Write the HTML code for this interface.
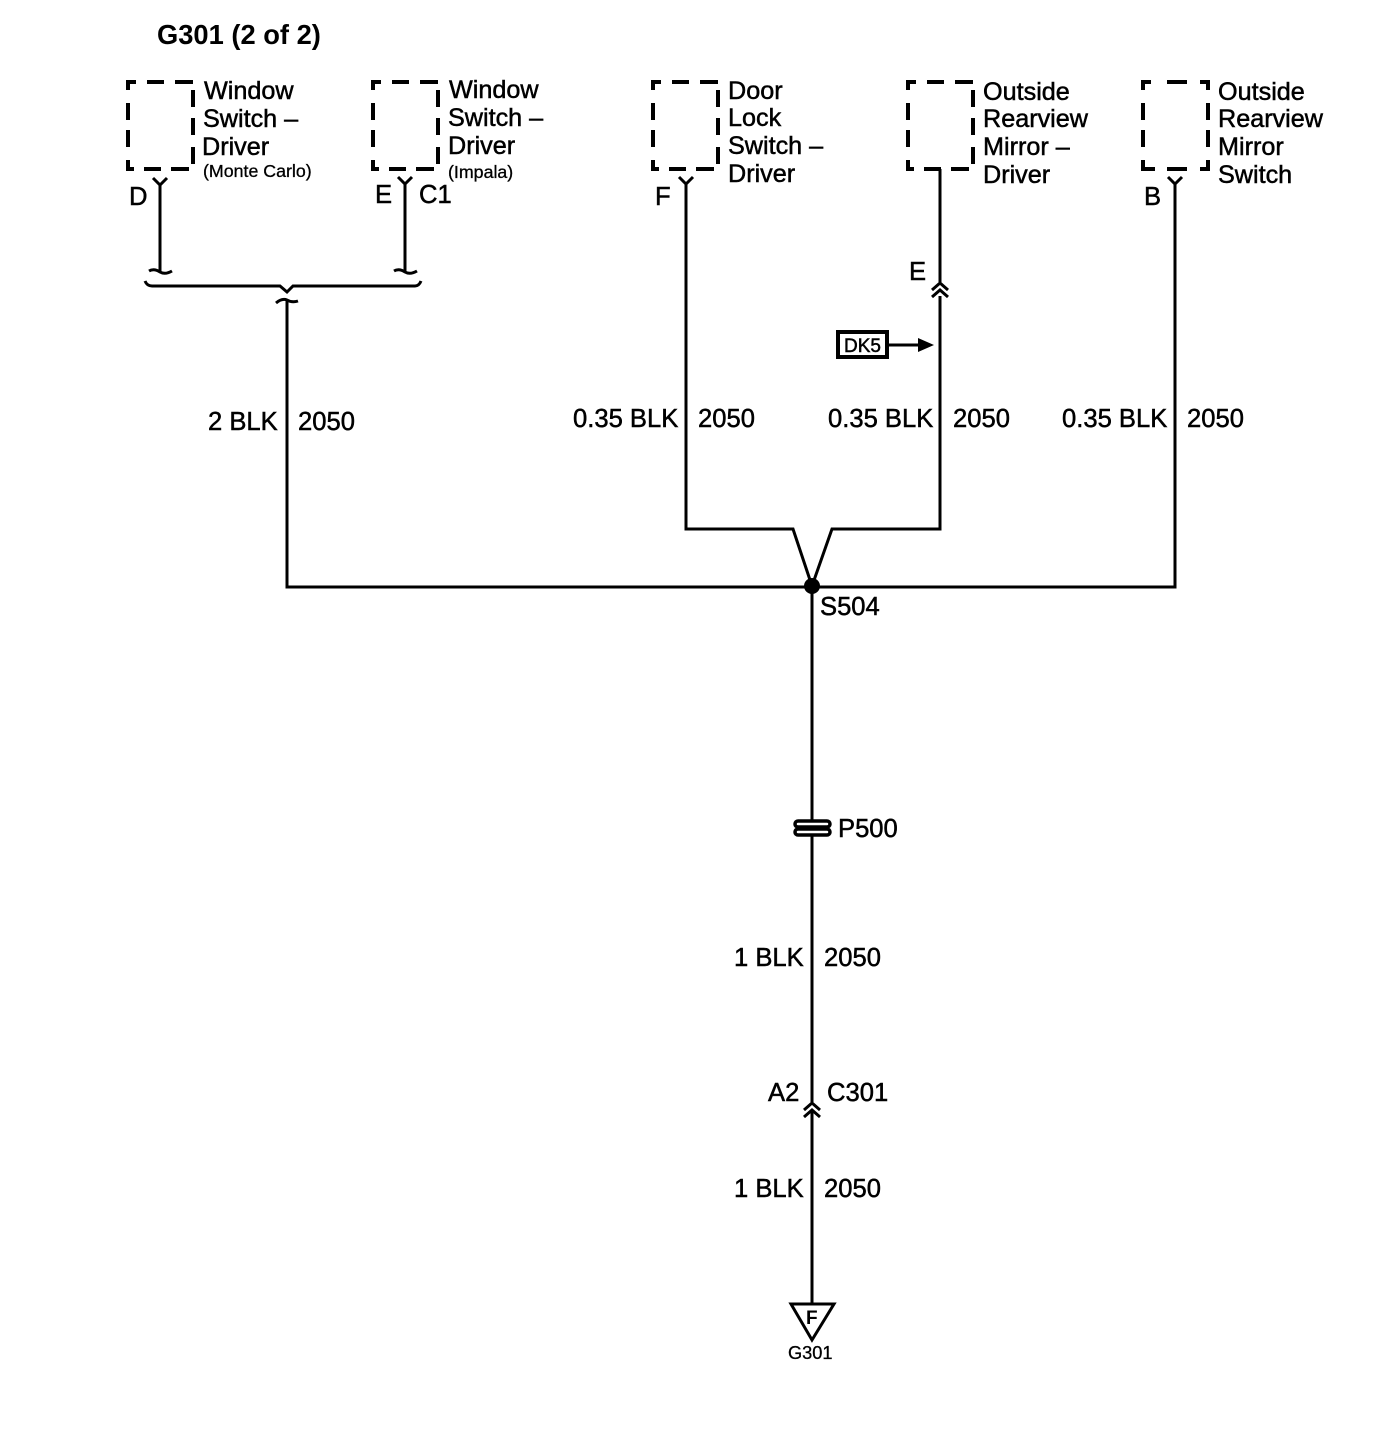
<!DOCTYPE html>
<html>
<head>
<meta charset="utf-8">
<style>
html,body{margin:0;padding:0;background:#fff}
svg{display:block}
text{font-family:"Liberation Sans",sans-serif;fill:#000;font-size:25.6px;stroke:#000;stroke-width:.5px}
.b{font-size:25.2px}
.s{font-size:17.8px;stroke-width:.3px}
.t{font-size:27.3px;font-weight:bold;stroke:none}
.w{fill:none;stroke:#000;stroke-width:3}
</style>
</head>
<body>
<svg width="1376" height="1440" viewBox="0 0 1376 1440" xmlns="http://www.w3.org/2000/svg">
<defs>
<path id="bx" fill="none" stroke="#000" stroke-width="4" d="M0 8V0H8M19 0H36M47 0H65M65 8V25M65 36V53M65 65V82M0 21V38M0 48V65M0 78V87H6M16 87H33M43 87H61"/>
<path id="bx2" fill="none" stroke="#000" stroke-width="4" d="M0 8V0H8M24 0H44M57 0H65V8M65 21V38M65 48V65M0 21V38M0 48V65M0 78V87H12M24 87H44M57 87H65V78"/>
<path id="fk" fill="none" stroke="#000" stroke-width="3" d="M-7 -7L0 0L7 -7"/>
<path id="ch" fill="none" stroke="#000" stroke-width="3" d="M-8 7L0 0L8 7M-8 14L0 7L8 14"/>
</defs>

<text x="157" y="44" class="t">G301 (2 of 2)</text>

<use href="#bx" x="128" y="82"/>
<use href="#bx" x="373" y="82"/>
<use href="#bx" x="653" y="82"/>
<use href="#bx" x="908" y="82"/>
<use href="#bx2" x="1143" y="82"/>

<text x="204" y="99" class="b">Window</text>
<text x="203" y="127" class="b">Switch –</text>
<text x="202" y="155" class="b">Driver</text>
<text x="203" y="177" class="s">(Monte Carlo)</text>

<text x="449" y="98" class="b">Window</text>
<text x="448" y="126" class="b">Switch –</text>
<text x="448" y="154" class="b">Driver</text>
<text x="448" y="178" class="s">(Impala)</text>

<text x="728" y="99" class="b">Door</text>
<text x="728" y="126" class="b">Lock</text>
<text x="728" y="154" class="b">Switch –</text>
<text x="728" y="182" class="b">Driver</text>

<text x="983" y="100" class="b">Outside</text>
<text x="983" y="127" class="b">Rearview</text>
<text x="983" y="155" class="b">Mirror –</text>
<text x="983" y="183" class="b">Driver</text>

<text x="1218" y="100" class="b">Outside</text>
<text x="1218" y="127" class="b">Rearview</text>
<text x="1218" y="155" class="b">Mirror</text>
<text x="1218" y="183" class="b">Switch</text>

<text x="129" y="205">D</text>
<text x="375" y="203">E</text>
<text x="419" y="203">C1</text>
<text x="655" y="205">F</text>
<text x="1144" y="205">B</text>
<text x="909" y="280">E</text>

<!-- left wires -->
<use href="#fk" x="160" y="185"/>
<use href="#fk" x="405" y="184"/>
<path class="w" d="M160 185V272M405 184V272"/>
<path class="w" d="M149 271Q154 268 160 272Q165 275 172 271M394 271Q399 268 405 272Q410 275 417 271"/>
<path class="w" d="M145 281Q147 286 152 286H280L287 292L293 286H415Q419 286 421 281"/>
<path class="w" d="M276 303Q282 298 287 300Q292 303 298 301"/>
<path class="w" d="M287 300V587H1175V184"/>

<!-- fork wires -->
<use href="#fk" x="686" y="184"/>
<use href="#fk" x="1175" y="184"/>
<path class="w" d="M686 184V529H793L812 586L832 529H940V296"/>
<path class="w" d="M940 169V282"/>
<use href="#ch" x="940" y="283"/>

<!-- DK5 -->
<rect x="838" y="332" width="49" height="25" fill="#fff" stroke="#000" stroke-width="4"/>
<text x="844" y="352" style="font-size:19px;stroke-width:.5px">DK5</text>
<path class="w" d="M888 345H920"/>
<path d="M918 338L934 345L918 352Z" fill="#000"/>

<!-- center -->
<circle cx="812" cy="586" r="8" fill="#000"/>
<path class="w" d="M812 586V1102M812 1110V1304"/>
<text x="820" y="615">S504</text>

<!-- P500 -->
<rect x="795" y="821" width="35" height="6" rx="3" fill="#fff" stroke="#000" stroke-width="3.5"/>
<rect x="795" y="829" width="35" height="6" rx="3" fill="#fff" stroke="#000" stroke-width="3.5"/>
<text x="838" y="837">P500</text>

<use href="#ch" x="812" y="1103"/>
<text x="768" y="1101">A2</text>
<text x="827" y="1101">C301</text>

<!-- wire labels -->
<text x="208" y="430">2 BLK</text>
<text x="298" y="430">2050</text>
<text x="573" y="427">0.35 BLK</text>
<text x="698" y="427">2050</text>
<text x="828" y="427">0.35 BLK</text>
<text x="953" y="427">2050</text>
<text x="1062" y="427">0.35 BLK</text>
<text x="1187" y="427">2050</text>
<text x="734" y="966">1 BLK</text>
<text x="824" y="966">2050</text>
<text x="734" y="1197">1 BLK</text>
<text x="824" y="1197">2050</text>

<!-- ground -->
<path d="M791 1304H834L812 1340Z" fill="#fff" stroke="#000" stroke-width="3"/>
<text x="806" y="1324" style="font-size:19px;font-weight:bold;stroke:none">F</text>
<text x="788" y="1359" class="s" style="font-size:18.2px">G301</text>
</svg>
</body>
</html>
